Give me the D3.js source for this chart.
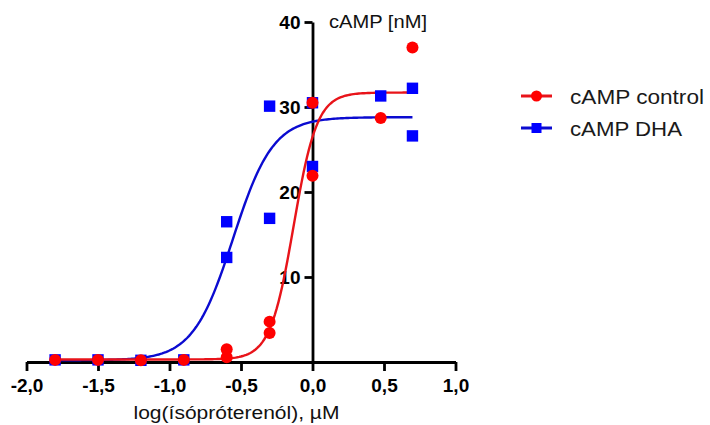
<!DOCTYPE html>
<html>
<head>
<meta charset="utf-8">
<script src="https://cdn.jsdelivr.net/npm/d3@7"></script>
<style>
  html, body { margin: 0; padding: 0; background: #fff; }
  svg { display: block; font-family: "Liberation Sans", Arial, sans-serif; }
</style>
</head>
<body>
<div id="chart"></div>
<script>
// log concentration of isoproterenol (µM)
const xTicks = [-2, -1.5, -1, -0.5, 0, 0.5, 1];
const yTicks = [10, 20, 30, 40];

// measured points, [log dose, cAMP nM]
const controlPoints = [
  [-1.8, 0.25], [-1.5, 0.25], [-1.2, 0.2], [-0.9, 0.25],
  [-0.6, 1.5], [-0.6, 0.55],
  [-0.3, 4.75], [-0.3, 3.4],
  [0, 30.5], [0, 21.9],
  [0.477, 28.7],
  [0.699, 37.0]
];
const dhaPoints = [
  [-1.8, 0.25], [-1.5, 0.25], [-1.2, 0.2], [-0.9, 0.25],
  [-0.6, 16.5], [-0.6, 12.3],
  [-0.3, 30.1], [-0.3, 16.9],
  [0, 30.5], [0, 23.0],
  [0.477, 31.3],
  [0.699, 32.2], [0.699, 26.6]
];

// sigmoidal dose-response fits (bottom, top, logEC50, hill slope)
const controlFit = { bottom: 0.3, top: 31.7, logEC50: -0.132, hill: 5.3 };
const dhaFit = { bottom: 0.2, top: 28.8, logEC50: -0.556, hill: 3.1 };
const fitRange = [-1.8, 0.699];

const width = 710, height = 425;
const x = d3.scaleLinear().domain([-2, 1]).range([26.5, 455.5]);
const y = d3.scaleLinear().domain([0, 40]).range([362, 22]);

const svg = d3.select('#chart').append('svg')
  .attr('width', width)
  .attr('height', height);

const fmt = v => d3.format('.1f')(v).replace('.', ',').replace('−', '-');

// x axis sits on y = 0
const xAxis = svg.append('g')
  .attr('transform', `translate(0,${y(0)})`)
  .call(d3.axisBottom(x).tickValues(xTicks).tickFormat(fmt).tickSize(9).tickSizeOuter(0).tickPadding(8));

// y axis sits on x = 0
const yAxis = svg.append('g')
  .attr('transform', `translate(${x(0)},0)`)
  .call(d3.axisLeft(y).tickValues(yTicks).tickSize(8).tickSizeOuter(0).tickPadding(4));

for (const g of [xAxis, yAxis]) {
  g.attr('font-size', null).attr('font-family', null);
  g.select('.domain').attr('stroke', '#000').attr('stroke-width', 2.8);
  g.selectAll('.tick line').attr('stroke', '#000').attr('stroke-width', 2.8);
  g.selectAll('.tick text')
    .attr('fill', '#000')
    .style('font-size', '19px')
    .style('font-weight', 'bold')
    .style('font-family', '"Liberation Sans", Arial, sans-serif');
}

svg.append('text')
  .attr('x', 236.5)
  .attr('y', 419)
  .attr('text-anchor', 'middle')
  .attr('font-size', 18)
  .attr('fill', '#111')
  .attr('textLength', 206)
  .attr('lengthAdjust', 'spacingAndGlyphs')
  .text('log(ísópróterenól), µM');

svg.append('text')
  .attr('x', 329)
  .attr('y', 28)
  .attr('font-size', 18)
  .attr('fill', '#111')
  .attr('textLength', 98)
  .attr('lengthAdjust', 'spacingAndGlyphs')
  .text('cAMP [nM]');

const hillCurve = fit => v => fit.bottom + (fit.top - fit.bottom) / (1 + Math.pow(10, (fit.logEC50 - v) * fit.hill));
const sampleX = d3.range(0, 201).map(i => fitRange[0] + (fitRange[1] - fitRange[0]) * i / 200);
const line = d3.line().x(d => x(d[0])).y(d => y(d[1])).curve(d3.curveLinear);

const series = [
  { name: 'cAMP DHA', points: dhaPoints, fit: dhaFit, marker: '#0000ff', curve: '#0b0bd0', shape: 'square' },
  { name: 'cAMP control', points: controlPoints, fit: controlFit, marker: '#ff0000', curve: '#e8141a', shape: 'circle' }
];

// curves first, red above blue
for (const s of series) {
  const f = hillCurve(s.fit);
  svg.append('path')
    .datum(sampleX.map(v => [v, f(v)]))
    .attr('fill', 'none')
    .attr('stroke', s.curve)
    .attr('stroke-width', 2.4)
    .attr('d', line);
}

const drawMarker = (g, s, cx, cy, big) => {
  if (s.shape === 'circle') {
    g.append('circle').attr('cx', cx).attr('cy', cy).attr('r', big ? 6 : 5.5).attr('fill', s.marker);
  } else {
    const h = big ? 5.7 : 5;
    g.append('rect').attr('x', cx - h).attr('y', cy - h).attr('width', 2 * h).attr('height', 2 * h).attr('fill', s.marker);
  }
};

for (const s of series) {
  const g = svg.append('g');
  for (const p of s.points) drawMarker(g, s, x(p[0]), y(p[1]), true);
}

// legend
const legend = [
  { s: series[1], y: 96 },
  { s: series[0], y: 128 }
];
for (const item of legend) {
  const g = svg.append('g');
  g.append('line')
    .attr('x1', 521).attr('x2', 552)
    .attr('y1', item.y).attr('y2', item.y)
    .attr('stroke', item.s.curve)
    .attr('stroke-width', 3);
  drawMarker(g, item.s, 536.5, item.y, false);
  g.append('text')
    .attr('x', 570)
    .attr('y', item.y + 7.5)
    .attr('font-size', 21)
    .attr('fill', '#1a1a1a')
    .attr('textLength', item.s.name === 'cAMP control' ? 134 : 112)
    .attr('lengthAdjust', 'spacingAndGlyphs')
    .text(item.s.name);
}
</script>
</body>
</html>
